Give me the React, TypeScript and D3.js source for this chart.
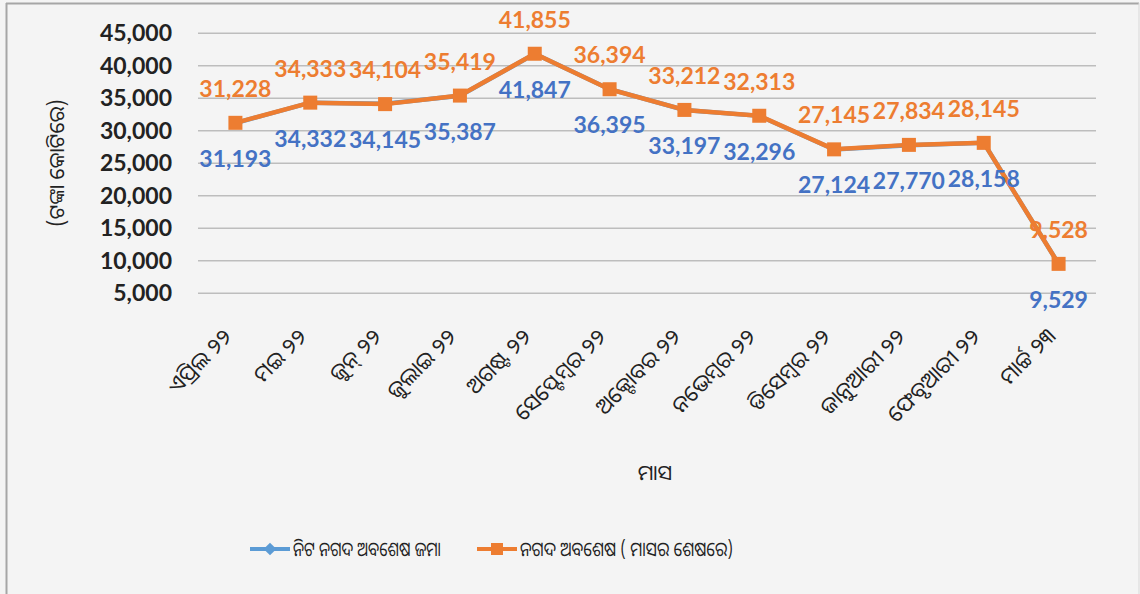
import React from "react";
import * as d3 from "d3";

const months = [
  "ଏପ୍ରିଲ ୨୨",
  "ମଇ ୨୨",
  "ଜୁନ୍ ୨୨",
  "ଜୁଲାଇ ୨୨",
  "ଅଗଷ୍ଟ ୨୨",
  "ସେପ୍ଟେମ୍ବର ୨୨",
  "ଅକ୍ଟୋବର ୨୨",
  "ନଭେମ୍ବର ୨୨",
  "ଡିସେମ୍ବର ୨୨",
  "ଜାନୁଆରୀ ୨୨",
  "ଫେବୃଆରୀ ୨୨",
  "ମାର୍ଚ୍ଚ ୨୩",
];
const netCash = [31193, 34332, 34145, 35387, 41847, 36395, 33197, 32296, 27124, 27770, 28158, 9529];
const cashBalance = [31228, 34333, 34104, 35419, 41855, 36394, 33212, 32313, 27145, 27834, 28145, 9528];
const yTicks = [5000, 10000, 15000, 20000, 25000, 30000, 35000, 40000, 45000];
const seriesNames = ["ନିଟ ନଗଦ ଅବଶେଷ ଜମା", "ନଗଦ ଅବଶେଷ ( ମାସର ଶେଷରେ)"];
const yTitle = "(ଟଙ୍କା କୋଟିରେ)";
const xTitle = "ମାସ";

const W = 1140;
const H = 594;
const plot = { left: 198, right: 1096, top: 33.3, bottom: 325.8 };
const ORANGE = "#ED7D31";
const BLUE = "#4472C4";
const BLUE_LINE = "#5B9BD5";
const NUM_FONT = "Lato, 'Open Sans', sans-serif";
const ODIA_FONT = "'Noto Sans Oriya', 'Noto Sans Odia', 'Lohit Odia', 'Kalinga', 'Noto Sans', sans-serif";

export default function App() {
  const x = d3.scaleBand<string>().domain(months).range([plot.left, plot.right]).padding(0);
  const y = d3.scaleLinear().domain([0, 45000]).range([plot.bottom, plot.top]);
  const cx = (m: string) => (x(m) as number) + x.bandwidth() / 2;
  const fmt = d3.format(",");

  const line = d3
    .line<number>()
    .x((_, i) => cx(months[i]))
    .y((d) => y(d));

  return (
    <svg
      width={W}
      height={H}
      style={{ position: "fixed", left: 0, top: 0, display: "block" }}
    >
      <rect x={0} y={0} width={W} height={H} fill="#F4F4F4" />
      <line x1={6} x2={1139} y1={3.5} y2={3.5} stroke="#A6A6A6" strokeWidth={2} />
      <line x1={6.5} x2={6.5} y1={3} y2={H} stroke="#A6A6A6" strokeWidth={2} />
      <line x1={1139} x2={1139} y1={3} y2={H} stroke="#D9D9D9" strokeWidth={1} />

      {yTicks.map((t) => (
        <g key={t}>
          <line x1={plot.left} x2={plot.right} y1={y(t)} y2={y(t)} stroke="#BDBDBD" strokeWidth={1.5} />
          <text
            x={172}
            y={y(t)}
            dy="0.35em"
            textAnchor="end"
            fontFamily={NUM_FONT}
            fontWeight={700}
            fontSize={23}
            fill="#222"
          >
            {fmt(t)}
          </text>
        </g>
      ))}

      <text
        transform={`translate(64,163) rotate(-90)`}
        textAnchor="middle"
        fontFamily={ODIA_FONT}
        fontSize={21}
        fill="#222"
      >
        {yTitle}
      </text>

      {months.map((m) => (
        <text
          key={m}
          transform={`translate(${cx(m) - 2},${338}) rotate(-45)`}
          textAnchor="end"
          fontFamily={ODIA_FONT}
          fontSize={22}
          fill="#222"
        >
          {m}
        </text>
      ))}

      <text x={655} y={480} textAnchor="middle" fontFamily={ODIA_FONT} fontSize={21} fill="#222">
        {xTitle}
      </text>

      <path d={line(netCash) || ""} fill="none" stroke={BLUE_LINE} strokeWidth={4.5} />
      <path d={line(cashBalance) || ""} fill="none" stroke={ORANGE} strokeWidth={4.5} strokeLinejoin="round" />
      {cashBalance.map((v, i) => (
        <rect key={i} x={cx(months[i]) - 7} y={y(v) - 7} width={14} height={14} fill={ORANGE} />
      ))}

      {cashBalance.map((v, i) => (
        <text
          key={"o" + i}
          x={cx(months[i])}
          y={y(v) - 26}
          textAnchor="middle"
          fontFamily={NUM_FONT}
          fontWeight={700}
          fontSize={23}
          fill={ORANGE}
        >
          {fmt(v)}
        </text>
      ))}
      {netCash.map((v, i) => (
        <text
          key={"b" + i}
          x={cx(months[i])}
          y={y(v) + 44}
          textAnchor="middle"
          fontFamily={NUM_FONT}
          fontWeight={700}
          fontSize={23}
          fill={BLUE}
        >
          {fmt(v)}
        </text>
      ))}

      {/* legend */}
      <line x1={250} x2={290} y1={549} y2={549} stroke={BLUE_LINE} strokeWidth={4} />
      <rect x={270 - 4.5} y={549 - 4.5} width={9} height={9} fill={BLUE_LINE} transform="rotate(45 270 549)" />
      <text
        x={293}
        y={549}
        dy="0.35em"
        fontFamily={ODIA_FONT}
        fontSize={20}
        fill="#222"
        textLength={148}
        lengthAdjust="spacingAndGlyphs"
      >
        {seriesNames[0]}
      </text>
      <line x1={477} x2={517} y1={549} y2={549} stroke={ORANGE} strokeWidth={4} />
      <rect x={497 - 6} y={549 - 6} width={12} height={12} fill={ORANGE} />
      <text
        x={520}
        y={549}
        dy="0.35em"
        fontFamily={ODIA_FONT}
        fontSize={20}
        fill="#222"
        textLength={213}
        lengthAdjust="spacingAndGlyphs"
      >
        {seriesNames[1]}
      </text>
    </svg>
  );
}
